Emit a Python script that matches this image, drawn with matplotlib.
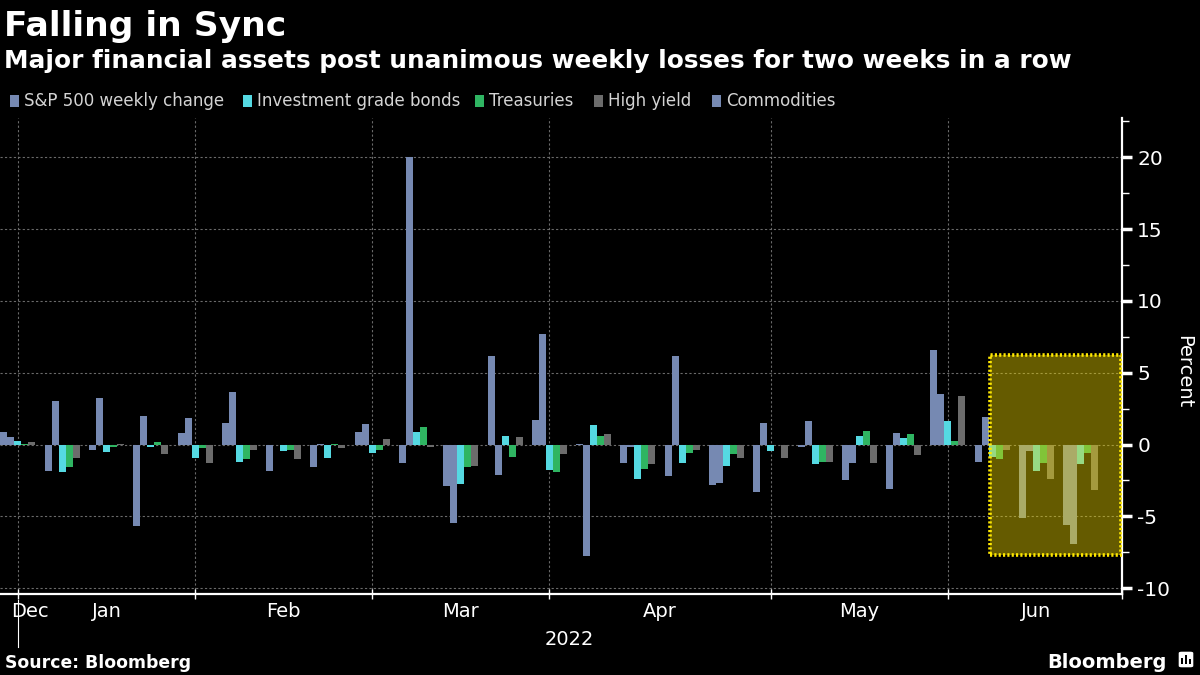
import matplotlib
matplotlib.use("Agg")
import matplotlib.pyplot as plt
from matplotlib.patches import Rectangle, FancyBboxPatch
from matplotlib.ticker import FixedLocator, NullFormatter
import numpy as np

# weekly % change, week ending Dec 31 2021 .. Jun 17 2022
sp500 = [0.84, -1.86, -0.35, -5.70, 0.77, 1.53, -1.81, -1.60, 0.84, -1.26, -2.86, 6.14, 1.74,
         0.06, -1.26, -2.16, -2.79, -3.28, -0.20, -2.44, -3.07, 6.56, -1.19, -5.09, -5.60]
commodities = [0.49, 3.00, 3.23, 2.02, 1.88, 3.63, -0.05, 0.05, 1.40, 20.0, -5.44, -2.09, 7.67,
               -7.75, -0.14, 6.14, -2.65, 1.53, 1.67, -1.26, 0.77, 3.49, 1.95, -0.42, -6.90]
ig_bonds = [0.26, -1.93, -0.49, -0.14, -0.91, -1.19, -0.42, -0.91, -0.56, 0.84, -2.72, 0.56, -1.74,
            1.33, -2.37, -1.26, -1.47, -0.42, -1.33, 0.56, 0.42, 1.67, -0.84, -1.81, -1.33]
treasuries = [0.07, -1.60, -0.19, 0.20, -0.26, -0.98, -0.35, 0.05, -0.35, 1.19, -1.60, -0.84, -1.88,
              0.56, -1.67, -0.56, -0.63, -0.03, -1.19, 0.91, 0.70, 0.28, -0.98, -1.26, -0.56]
high_yield = [0.20, -0.95, 0.05, -0.67, -1.30, -0.35, -0.98, -0.26, 0.35, -0.20, -1.53, 0.49, -0.63,
              0.70, -1.33, -0.35, -0.91, -0.91, -1.19, -1.26, -0.70, 3.35, -0.35, -2.37, -3.14]

legend_labels = ["S&P 500 weekly change", "Investment grade bonds", "Treasuries", "High yield", "Commodities"]
month_labels = ["Dec", "Jan", "Feb", "Mar", "Apr", "May", "Jun"]
month_bounds = [0, 4, 8, 12, 17, 21]     # last week of each month (week index)
highlight_weeks = (22, 24)
highlight_range = (-7.66, 6.2)

# colours
BLUE = "#7689b2"
CYAN = "#55d9e2"
GREEN = "#2fb562"
GREY = "#6c6c6c"

plt.rcParams["font.family"] = ["DejaVu Sans"]

fig = plt.figure(figsize=(12, 6.75), dpi=100, facecolor="black")
ax = fig.add_axes([0, 81 / 675, 1122 / 1200, 476 / 675], facecolor="black")

n = len(sp500)
x = np.arange(n)
w = 0.158
# drawing order inside each week (as on the chart)
series = [(sp500, BLUE), (commodities, BLUE), (ig_bonds, CYAN), (treasuries, GREEN), (high_yield, GREY)]
for j, (vals, col) in enumerate(series):
    ax.bar(x + (j - 2) * w, vals, width=w, color=col, linewidth=0, zorder=3)

xmin, xmax = -0.406, 24.93
ax.set_xlim(xmin, xmax)
ax.set_ylim(-10.41, 22.74)

# highlighted box
x0 = highlight_weeks[0] - 0.06
y0, y1 = highlight_range
ax.add_patch(Rectangle((x0, y0), xmax - x0, y1 - y0, facecolor="#f3db00", alpha=0.42,
                       linewidth=0, zorder=4))
ax.add_patch(Rectangle((x0, y0), xmax - x0 - 0.02, y1 - y0, fill=False, edgecolor="#ffe800",
                       linewidth=2.6, linestyle=(0, (0.6, 0.6)), zorder=5))

# spines
for s in ["left", "top"]:
    ax.spines[s].set_visible(False)
for s in ["right", "bottom"]:
    ax.spines[s].set_color("white")
    ax.spines[s].set_linewidth(1.6)

# y axis on the right
ax.yaxis.tick_right()
ax.set_yticks(np.arange(-10, 21, 5))
ax.yaxis.set_minor_locator(FixedLocator(np.arange(-7.5, 22.6, 5)))
ax.tick_params(axis="y", which="major", colors="white", labelsize=14.5, length=7, width=2.5, pad=4)
ax.tick_params(axis="y", which="minor", colors="white", length=5, width=1)
ax.set_yticklabels([str(v) for v in range(-10, 21, 5)])
ax.grid(axis="y", which="major", color="#6a6a6a", linestyle=(0, (2, 2)), linewidth=0.8, zorder=0)

# x axis: ticks at month ends, labels in between
ax.set_xticks(month_bounds + [xmax])
ax.xaxis.set_major_formatter(NullFormatter())
ax.tick_params(axis="x", which="major", colors="white", direction="inout", length=7, width=1)
for b in month_bounds:
    ax.axvline(b, color="#6a6a6a", linestyle=(0, (2, 2)), linewidth=0.8, zorder=0)
edges = [-0.52] + month_bounds + [xmax + 0.07]
label_pos = [0.26] + [(edges[i] + edges[i + 1]) / 2 for i in range(1, len(edges) - 1)]
ax.set_xticks(label_pos, minor=True)
ax.set_xticklabels(month_labels, minor=True)
ax.tick_params(axis="x", which="minor", colors="white", labelsize=14, length=0, pad=6)
ax.text(0.507, -0.075, "2022", transform=ax.transAxes, ha="center", va="top", color="white", fontsize=14)
ax.plot([0, 0], [-0.012, -0.112], transform=ax.get_xaxis_transform(), color="white", lw=0.8,
        clip_on=False)

fig.text(0.986, 0.449, "Percent", rotation=270, ha="center", va="center", color="white", fontsize=14)

# titles
fig.text(0.003, 1 - 36 / 675, "Falling in Sync", color="white", fontsize=24.8, fontweight="bold",
         va="baseline", ha="left")
fig.text(0.003, 1 - 68 / 675, "Major financial assets post unanimous weekly losses for two weeks in a row",
         color="white", fontsize=17.8, fontweight="bold", va="baseline", ha="left")

# legend
leg_colors = [BLUE, CYAN, GREEN, GREY, BLUE]
leg_x = [10, 243, 475, 594, 712]
for lab, col, px in zip(legend_labels, leg_colors, leg_x):
    fig.patches.append(Rectangle((px / 1200, 1 - 107 / 675), 9 / 1200, 12 / 675, facecolor=col,
                                 transform=fig.transFigure, figure=fig))
    fig.text((px + 14) / 1200, 1 - 106 / 675, lab, color="#d4d4d4", fontsize=12, va="baseline")

# footer
fig.text(0.004, 1 - 668 / 675, "Source: Bloomberg", color="white", fontsize=12.4, fontweight="bold",
         va="baseline")
fig.text(1167 / 1200, 1 - 668 / 675, "Bloomberg", color="white", fontsize=14, fontweight="bold",
         va="baseline", ha="right")
fig.patches.append(FancyBboxPatch((1178 / 1200, 1 - 668 / 675), 16 / 1200, 17 / 675,
                                  boxstyle="round,pad=0,rounding_size=0.003", facecolor="white",
                                  transform=fig.transFigure, figure=fig))
for k, hgt in enumerate([6, 9, 5]):
    fig.patches.append(Rectangle(((1181 + k * 4) / 1200, 1 - 664 / 675), 2 / 1200, hgt / 675,
                                 facecolor="black", transform=fig.transFigure, figure=fig))

fig.savefig("out.png", dpi=100, facecolor="black")
